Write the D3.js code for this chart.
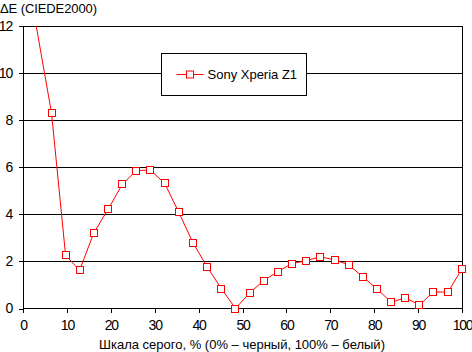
<!DOCTYPE html>
<html>
<head>
<meta charset="utf-8">
<script src="https://cdn.jsdelivr.net/npm/d3@7"></script>
<style>
  body { margin: 0; background: #fff; }
  svg text { font-family: "Liberation Sans", Arial, sans-serif; font-size: 13px; fill: #000; }
  svg .tick text { font-size: 14px; letter-spacing: -1.2px; }
</style>
</head>
<body>
<svg width="472" height="352"></svg>
<script>
// gray scale, % and measured dE
var grayLevels = [0, 3.2, 6.5, 9.7, 12.9, 16.1, 19.4, 22.6, 25.8, 29.0, 32.3, 35.5, 38.7, 41.9, 45.2,
  48.4, 51.6, 54.8, 58.1, 61.3, 64.5, 67.7, 71.0, 74.2, 77.4, 80.6, 83.9, 87.1, 90.3, 93.5, 96.8, 100];
var deltaE = [15.2, null, 8.3, 2.26, 1.62, 3.2, 4.22, 5.27, 5.86, 5.88, 5.31, 4.08, 2.8, 1.78, 0.84,
  0.0, 0.66, 1.18, 1.57, 1.91, 2.03, 2.2, 2.06, 1.86, 1.34, 0.84, 0.26, 0.46, 0.15, 0.71, 0.69, 1.69];
var xTicks = [0, 10, 20, 30, 40, 50, 60, 70, 80, 90, 100];
var yTicks = [0, 2, 4, 6, 8, 10, 12];
var seriesName = "Sony Xperia Z1";

var svg = d3.select("svg"),
    m = {left: 23, right: 462, top: 26, bottom: 308.5};

var x = d3.scaleLinear().domain([0, 100]).range([m.left, m.right]);
var y = d3.scaleLinear().domain([0, 12]).range([m.bottom, m.top]);

var pts = grayLevels.map(function(g, i) { return {g: g, v: deltaE[i]}; })
  .filter(function(d) { return d.v != null; });

// grid
svg.append("g").selectAll("line")
  .data(yTicks.slice(1))
  .enter().append("line")
    .attr("x1", m.left).attr("x2", m.right)
    .attr("y1", function(d) { return y(d); }).attr("y2", function(d) { return y(d); })
    .attr("stroke", "#000").attr("shape-rendering", "crispEdges");

svg.append("line")
  .attr("x1", m.right).attr("x2", m.right).attr("y1", m.top).attr("y2", m.bottom)
  .attr("stroke", "#000").attr("shape-rendering", "crispEdges");

// axes
var xAxis = svg.append("g")
  .attr("transform", "translate(0," + m.bottom + ")")
  .call(d3.axisBottom(x).tickValues(xTicks).tickSize(4).tickPadding(8));
var yAxis = svg.append("g")
  .attr("transform", "translate(" + m.left + ",0)")
  .call(d3.axisLeft(y).tickValues(yTicks).tickSize(4).tickPadding(7));
[xAxis, yAxis].forEach(function(a) {
  a.attr("font-size", null).attr("font-family", null);
  a.selectAll("path, line").attr("stroke", "#000").attr("shape-rendering", "crispEdges");
  a.select(".domain").attr("d", a === xAxis ? "M" + m.left + ",0H" + m.right : "M0," + m.bottom + "V" + m.top);
});

// series
svg.append("clipPath").attr("id", "clip")
  .append("rect").attr("x", m.left).attr("y", m.top).attr("width", m.right - m.left).attr("height", m.bottom - m.top + 4);

var line = d3.line().x(function(d) { return x(d.g); }).y(function(d) { return y(d.v); });
svg.append("path")
  .datum(pts)
  .attr("clip-path", "url(#clip)")
  .attr("fill", "none").attr("stroke", "#f00").attr("stroke-width", 1)
  .attr("d", line);

svg.append("g").selectAll("rect")
  .data(pts.filter(function(d) { return d.v <= 12; }))
  .enter().append("rect")
    .attr("x", function(d) { return Math.round(x(d.g)) - 3.5; })
    .attr("y", function(d) { return Math.round(y(d.v)) - 3.5; })
    .attr("width", 7).attr("height", 7)
    .attr("fill", "#fff").attr("stroke", "#f00");

// legend
var lg = svg.append("g").attr("transform", "translate(161.5,53.5)");
lg.append("rect").attr("width", 145).attr("height", 42).attr("fill", "#fff").attr("stroke", "#000");
lg.append("line").attr("x1", 15).attr("x2", 42).attr("y1", 21).attr("y2", 21).attr("stroke", "#f00");
lg.append("rect").attr("x", 25).attr("y", 17.5).attr("width", 7).attr("height", 7)
  .attr("fill", "#fff").attr("stroke", "#f00");
lg.append("text").attr("x", 46).attr("y", 25.5).attr("font-size", "14px").text(seriesName);

// titles
svg.append("text").attr("x", 0).attr("y", 13).attr("font-size", "14px")
  .attr("textLength", 97).text("ΔE (CIEDE2000)");
svg.append("text").attr("x", 242).attr("y", 349).attr("text-anchor", "middle")
  .text("Шкала серого, % (0% – черный, 100% – белый)");
</script>
</body>
</html>
